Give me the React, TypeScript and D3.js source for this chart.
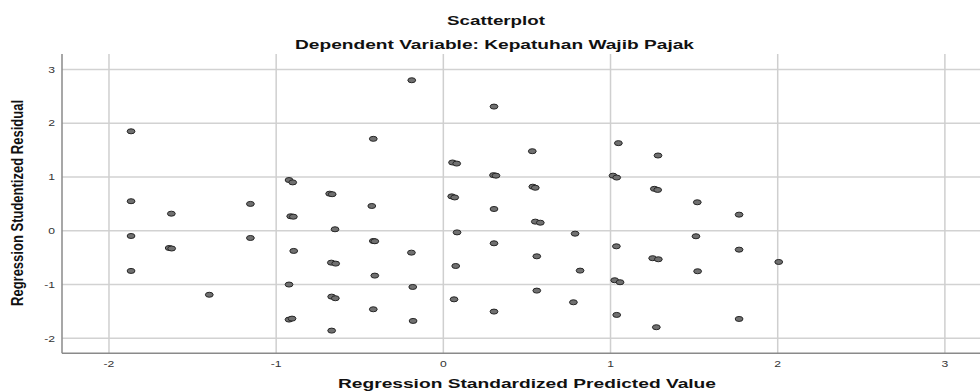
import React from "react";
import * as d3 from "d3";

const predicted: number[] = [
  -1.868, -1.868, -1.154, -0.189, -0.419, 0.055, 0.08, -0.923, -0.901, -0.68, -0.665, -0.428,
  0.05, 0.068, 0.303, 0.532, 0.3, 0.315, 1.047, 1.015, 1.037, 0.535, 0.55, 0.303,
  1.284, 1.262, 1.282, 1.519, -1.627, -1.868, -1.154, -1.64, -1.625, -1.868, -1.4,
  -0.913, -0.897, -0.648, -0.419, -0.41, -0.895, -0.191, -0.67, -0.644, -0.41, -0.923,
  -0.183, -0.668, -0.646, -0.419, -0.923, -0.905, -0.181, -0.668, 0.082, 0.074, 0.064,
  0.55, 0.58, 0.788, 0.303, 1.035, 0.559, 0.818, 1.025, 1.057, 0.559, 0.778, 0.303,
  1.037, 1.769, 1.511, 1.769, 1.252, 1.286, 2.006, 1.521, 1.769, 1.274,
];
const residual: number[] = [
  1.85, 0.55, 0.5, 2.8, 1.71, 1.27, 1.25, 0.944, 0.9, 0.69, 0.68, 0.461,
  0.64, 0.62, 2.31, 1.48, 1.035, 1.025, 1.63, 1.025, 0.99, 0.82, 0.8, 0.405,
  1.4, 0.78, 0.76, 0.53, 0.318, -0.097, -0.134, -0.32, -0.33, -0.747, -1.19,
  0.27, 0.262, 0.028, -0.19, -0.195, -0.375, -0.407, -0.593, -0.611, -0.834, -1.0,
  -1.045, -1.225, -1.255, -1.46, -1.652, -1.634, -1.677, -1.857, -0.03, -0.655, -1.275,
  0.17, 0.15, -0.054, -0.233, -0.289, -0.475, -0.741, -0.92, -0.957, -1.113, -1.33, -1.503,
  -1.565, 0.3, -0.102, -0.351, -0.51, -0.53, -0.58, -0.753, -1.64, -1.794,
];
const xTicks: number[] = [-2, -1, 0, 1, 2, 3];
const yTicks: number[] = [-2, -1, 0, 1, 2, 3];
const titleText = "Scatterplot";
const subtitleText = "Dependent Variable: Kepatuhan Wajib Pajak";
const xLabel = "Regression Standardized Predicted Value";
const yLabel = "Regression Studentized Residual";

export default function App() {
  const W = 980;
  const H = 391;
  const left = 62;
  const right = 980;
  const top = 54;
  const bottom = 353.3;
  const x = d3.scaleLinear().domain([-2.281, 3.21]).range([left, right]);
  const y = d3.scaleLinear().domain([-2.279, 3.288]).range([bottom, top]);
  const font = "'Liberation Sans', Arial, sans-serif";
  const pts = predicted.map((p, i) => ({ p, r: residual[i] }));

  return (
    <svg width={W} height={H} style={{ position: "absolute", left: 0, top: 0, background: "#fff" }} fontFamily={font}>
      {yTicks.map((t) => (
        <line key={"gy" + t} x1={left} x2={right} y1={y(t)} y2={y(t)} stroke="#d2d2d2" strokeWidth={1.4} />
      ))}
      {xTicks.map((t) => (
        <line key={"gx" + t} x1={x(t)} x2={x(t)} y1={top} y2={bottom} stroke="#cfcfcf" strokeWidth={1.5} />
      ))}
      <line x1={left} x2={left} y1={top} y2={bottom} stroke="#8a8a8a" strokeWidth={1.5} />
      <line x1={left} x2={right} y1={bottom} y2={bottom} stroke="#8a8a8a" strokeWidth={1.5} />
      {xTicks.map((t) => (
        <text key={"tx" + t} transform={`translate(${x(t)},367) scale(1.35,1)`} textAnchor="middle" fontSize={9} fill="#333">
          {t}
        </text>
      ))}
      {yTicks.map((t) => (
        <text key={"ty" + t} transform={`translate(55,${y(t) + 3.2}) scale(1.35,1)`} textAnchor="end" fontSize={9} fill="#333">
          {t}
        </text>
      ))}
      {pts.map((d, i) => (
        <ellipse key={i} cx={x(d.p)} cy={y(d.r)} rx={3.9} ry={2.5} fill="#707070" stroke="#262626" strokeWidth={1} />
      ))}
      <text x={496} y={25} textAnchor="middle" fontSize={13.5} fontWeight="bold" textLength={98} lengthAdjust="spacingAndGlyphs" fill="#111">
        {titleText}
      </text>
      <text x={494.5} y={49.3} textAnchor="middle" fontSize={13.5} fontWeight="bold" textLength={399} lengthAdjust="spacingAndGlyphs" fill="#111">
        {subtitleText}
      </text>
      <text x={527} y={387.5} textAnchor="middle" fontSize={13} fontWeight="bold" textLength={378} lengthAdjust="spacingAndGlyphs" fill="#111">
        {xLabel}
      </text>
      <text transform="translate(23,203) rotate(-90) scale(1,1.3)" textAnchor="middle" fontSize={13} fontWeight="bold" textLength={206} lengthAdjust="spacingAndGlyphs" fill="#111">
        {yLabel}
      </text>
    </svg>
  );
}
